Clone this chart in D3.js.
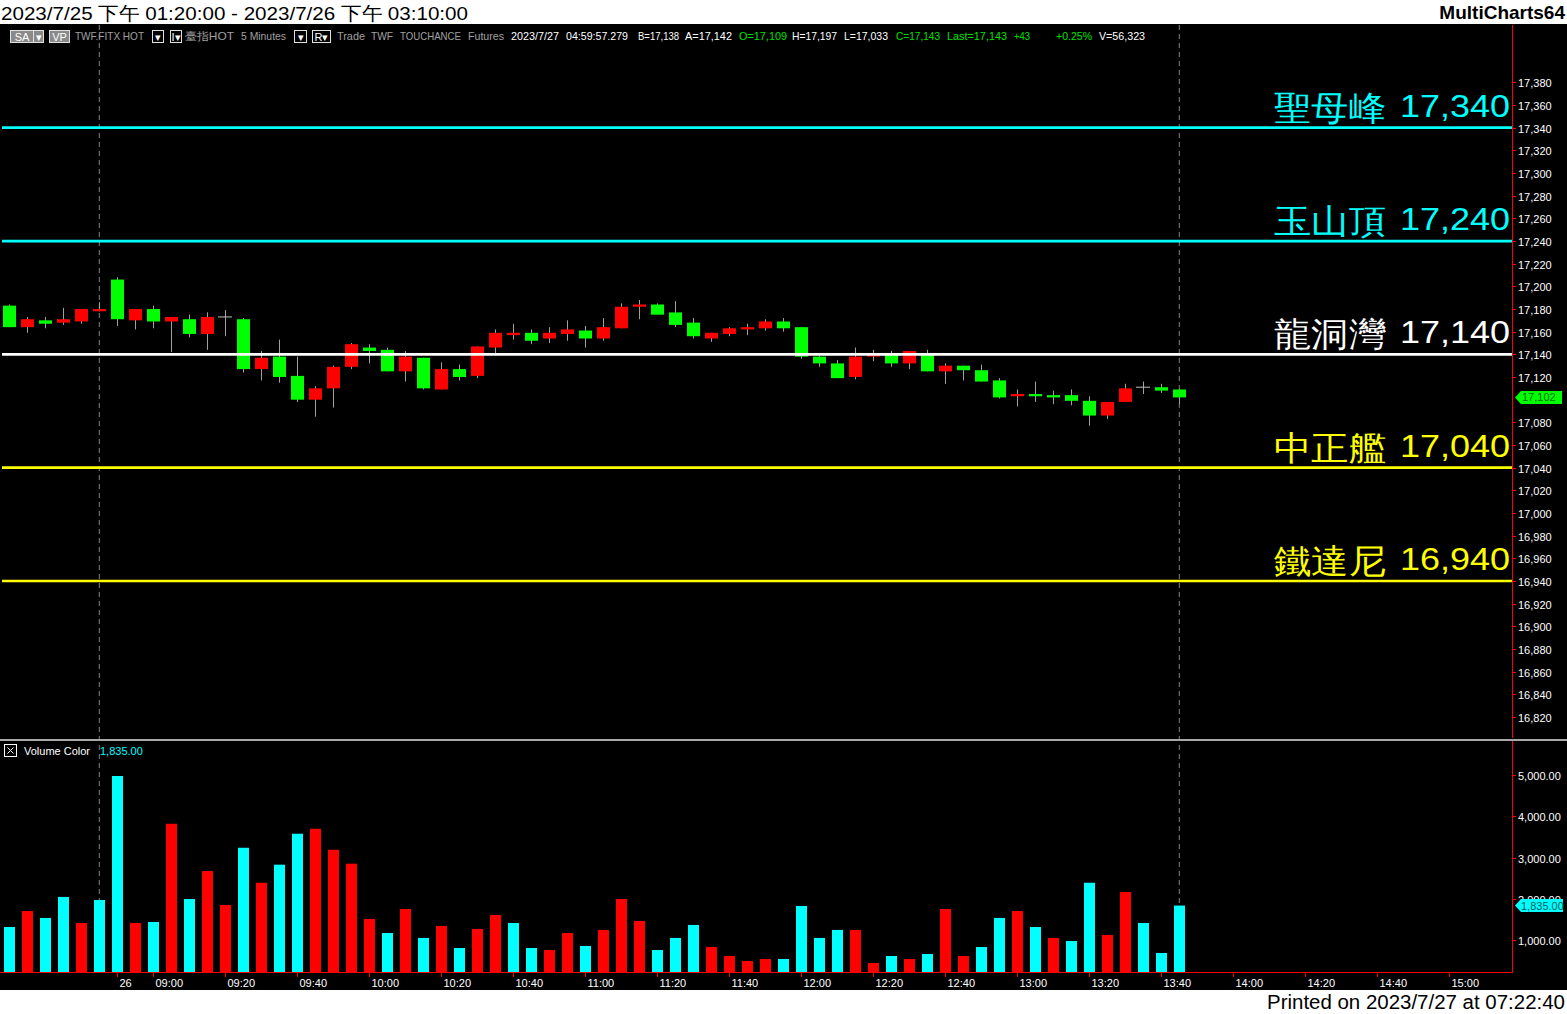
<!DOCTYPE html>
<html><head><meta charset="utf-8">
<script src="https://cdn.jsdelivr.net/npm/d3@7"></script>
<style>
html,body{margin:0;padding:0;background:#000;}
svg{display:block;}
text{font-family:"Liberation Sans",Arial,sans-serif;}
</style></head>
<body>
<svg id="c" width="1567" height="1014"></svg>
<script>
// ---------- DATA ----------
const barTimes = ["04:35","04:40","04:45","04:50","04:55","05:00",
 "08:50","08:55","09:00","09:05","09:10","09:15","09:20","09:25","09:30","09:35","09:40","09:45",
 "09:50","09:55","10:00","10:05","10:10","10:15","10:20","10:25","10:30","10:35","10:40","10:45",
 "10:50","10:55","11:00","11:05","11:10","11:15","11:20","11:25","11:30","11:35","11:40","11:45",
 "11:50","11:55","12:00","12:05","12:10","12:15","12:20","12:25","12:30","12:35","12:40","12:45",
 "12:50","12:55","13:00","13:05","13:10","13:15","13:20","13:25","13:30","13:35","13:40","13:45"];
const openP  = [17183,17164,17170,17168,17169,17178,
 17206,17170,17180,17169,17171,17158,17173,17171,17127,17138,17121,17100,17110,17129,17146,17144,
 17125,17137,17109,17127,17121,17146,17157,17159,17154,17158,17161,17154,17163,17182,17184,17177,
 17168,17154,17158,17162,17163,17169,17164,17138,17132,17120,17138,17140,17132,17141,17125,17130,
 17126,17117,17103,17105,17104,17104,17099,17086,17098,17111,17111,17109];
const highP  = [17184,17173,17173,17181,17180,17186,
 17208,17180,17183,17173,17175,17177,17179,17172,17143,17153,17138,17112,17130,17150,17149,17146,
 17143,17137,17133,17131,17147,17162,17167,17162,17164,17170,17165,17172,17185,17188,17185,17187,
 17172,17159,17164,17167,17171,17172,17164,17139,17135,17146,17144,17143,17143,17144,17132,17130,
 17131,17119,17109,17116,17108,17109,17103,17098,17114,17116,17114,17109];
const lowP   = [17164,17159,17163,17166,17167,17178,
 17165,17162,17163,17142,17155,17144,17156,17124,17117,17115,17098,17085,17093,17127,17132,17125,
 17116,17109,17109,17117,17119,17141,17153,17149,17150,17152,17146,17152,17163,17171,17175,17164,
 17154,17151,17156,17157,17161,17160,17136,17129,17119,17118,17134,17129,17127,17125,17114,17117,
 17116,17101,17094,17098,17096,17095,17077,17083,17098,17105,17106,17096];
const closeP = [17164,17171,17167,17171,17180,17180,
 17171,17180,17169,17173,17158,17173,17173,17127,17137,17120,17100,17110,17129,17149,17143,17125,
 17138,17110,17127,17120,17147,17159,17159,17152,17159,17162,17154,17164,17182,17184,17175,17166,
 17156,17159,17163,17164,17169,17163,17138,17132,17119,17138,17140,17132,17143,17125,17130,17126,
 17116,17102,17105,17103,17102,17099,17086,17098,17110,17111,17108,17102];
const volume = [1315,1703,1535,2044,1412,1970,
 4976,1412,1436,3818,1994,2673,1848,3236,2388,2826,3576,3697,3188,2850,1511,1170,
 1752,1050,1341,806,1268,1607,1412,806,758,1170,855,1244,1994,1460,758,1050,
 1365,830,612,491,540,540,1824,1050,1244,1244,443,612,540,661,1752,612,
 830,1535,1703,1315,1050,976,2388,1122,2164,1412,685,1835];
const volDir = ["d","u","d","d","u","d",
 "d","u","d","u","d","u","u","d","u","d","d","u","u","u","u","d",
 "u","d","u","d","u","u","d","d","u","u","d","u","u","u","d","d",
 "d","u","u","u","u","d","d","d","d","u","u","d","u","d","u","u",
 "d","d","u","d","u","d","d","u","u","d","d","d"];
const levelNames  = ["聖母峰","玉山頂","龍洞灣","中正艦","鐵達尼"];
const levelPrices = [17340,17240,17140,17040,16940];
const levelColors = ["#00ffff","#00ffff","#ffffff","#ffff00","#ffff00"];
// 17,100 is hidden behind the last-price marker in the reference
const priceTicks = [16820,16840,16860,16880,16900,16920,16940,16960,16980,17000,17020,17040,17060,17080,
 17120,17140,17160,17180,17200,17220,17240,17260,17280,17300,17320,17340,17360,17380];
const volTicks = [1000,2000,3000,4000,5000];
const xTickLabels = ["26","09:00","09:20","09:40","10:00","10:20","10:40","11:00","11:20","11:40",
 "12:00","12:20","12:40","13:00","13:20","13:40","14:00","14:20","14:40","15:00"];
const lastPrice = 17102, lastVolume = 1835;

// ---------- SCALES ----------
const svg = d3.select("#c");
const fmt = d3.format(",");
const slotOf = t => { const [h,m] = t.split(":").map(Number); return (h*60+m - 530)/5; };
const barSlot = barTimes.map((t,i) => i < 6 ? i - 6 : slotOf(t));
const x  = d3.scaleLinear().domain([0, 74]).range([117.3, 1449.3]);
const yP = d3.scaleLinear().domain([16940, 17340]).range([581.0, 127.7]);
const yV = d3.scaleLinear().domain([0, 5000]).range([981.25, 775]);
const plotR = 1512, volBase = 972;

// backgrounds
svg.append("rect").attr("x",0).attr("y",0).attr("width",1567).attr("height",1014).attr("fill","#000");
svg.append("rect").attr("x",0).attr("y",0).attr("width",1567).attr("height",24).attr("fill","#fff");
svg.append("rect").attr("x",0).attr("y",990).attr("width",1567).attr("height",24).attr("fill","#fff");

// title bar
svg.append("text").attr("x",1).attr("y",20).attr("font-size",19).attr("fill","#000")
  .attr("font-family","'Liberation Sans','Noto Sans CJK TC',sans-serif")
  .attr("textLength",467).attr("lengthAdjust","spacingAndGlyphs")
  .text("2023/7/25 下午 01:20:00 - 2023/7/26 下午 03:10:00");
svg.append("text").attr("x",1565).attr("y",19).attr("text-anchor","end").attr("font-size",19)
  .attr("font-weight","bold").attr("fill","#000").text("MultiCharts64");
svg.append("text").attr("x",1565).attr("y",1009).attr("text-anchor","end").attr("font-size",20)
  .attr("fill","#000").attr("font-family","'Open Sans','Liberation Sans',sans-serif")
  .attr("textLength",298).attr("lengthAdjust","spacingAndGlyphs")
  .text("Printed on 2023/7/27 at 07:22:40");

// dashed verticals (session break and last bar)
[x(-1), x(59)].forEach(dx => {
  svg.append("line").attr("x1",dx).attr("x2",dx).attr("y1",25).attr("y2",volBase)
    .attr("stroke","#808080").attr("stroke-width",1).attr("stroke-dasharray","5,4");
});

// header row widgets
const hdr = svg.append("g").attr("font-size",11);
function box(x0,w,fill,label,tcol){
  hdr.append("rect").attr("x",x0+0.5).attr("y",30.5).attr("width",w).attr("height",12)
    .attr("fill",fill).attr("stroke","#e0e0e0");
  hdr.append("text").attr("x",x0+w/2+0.5).attr("y",40.5).attr("text-anchor","middle")
    .attr("fill",tcol).attr("font-size",11).text(label);
}
box(10,23,"#8a8a8a","SA","#fff"); box(33,10,"#8a8a8a","▾","#fff");
box(49,20,"#8a8a8a","VP","#fff");
box(152,11,"#000","▾","#fff"); box(170,11,"#000","I▾","#fff"); box(294,12,"#000","▾","#fff");
box(312,18,"#000","R▾","#fff");
const hdrTexts = [
  [75,69,"TWF.FITX HOT","#a0a0a0"],[185,49,"臺指HOT","#a0a0a0"],[241,45,"5 Minutes","#a0a0a0"],
  [337,28,"Trade","#a0a0a0"],[371,22,"TWF","#a0a0a0"],[400,61,"TOUCHANCE","#a0a0a0"],[468,36,"Futures","#a0a0a0"],
  [511,48,"2023/7/27","#fff"],[566,62,"04:59:57.279","#fff"],[638,41,"B=17,138","#fff"],[685,47,"A=17,142","#fff"],
  [739,48,"O=17,109","#00e000"],[792,45,"H=17,197","#fff"],[844,44,"L=17,033","#fff"],[896,44,"C=17,143","#00e000"],
  [947,60,"Last=17,143","#00e000"],[1014,16,"+43","#00e000"],[1056,36,"+0.25%","#00e000"],[1099,46,"V=56,323","#fff"]];
hdrTexts.forEach(([tx,w,s,c]) => hdr.append("text").attr("x",tx).attr("y",40).attr("fill",c)
  .attr("textLength",w).attr("lengthAdjust","spacingAndGlyphs")
  .attr("font-family","'Liberation Sans','Noto Sans CJK TC',sans-serif").text(s));

// ---------- CANDLES ----------
const bars = barTimes.map((t,i) => ({t, s:barSlot[i], o:openP[i], h:highP[i], l:lowP[i], c:closeP[i], v:volume[i], d:volDir[i]}));
const cg = svg.append("g");
cg.selectAll("line.w").data(bars).join("line")
  .attr("x1",d=>Math.round(x(d.s))+0.5).attr("x2",d=>Math.round(x(d.s))+0.5)
  .attr("y1",d=>yP(d.h)).attr("y2",d=>yP(d.l)).attr("stroke","#a0a0a0").attr("stroke-width",1);
cg.selectAll("rect.b").data(bars.filter(d=>d.o!==d.c)).join("rect")
  .attr("x",d=>Math.round(x(d.s))-6).attr("width",13)
  .attr("y",d=>yP(Math.max(d.o,d.c)))
  .attr("height",d=>Math.max(2, yP(Math.min(d.o,d.c)) - yP(Math.max(d.o,d.c))))
  .attr("fill",d=>d.c>d.o ? "#ff0000" : "#00ff00");
cg.selectAll("line.dj").data(bars.filter(d=>d.o===d.c)).join("line")
  .attr("x1",d=>Math.round(x(d.s))-7).attr("x2",d=>Math.round(x(d.s))+7)
  .attr("y1",d=>yP(d.o)).attr("y2",d=>yP(d.o)).attr("stroke","#c0c0c0").attr("stroke-width",1);

// ---------- LEVEL LINES ----------
levelPrices.forEach((p,i) => {
  const ly = yP(p);
  svg.append("line").attr("x1",2).attr("x2",plotR).attr("y1",ly).attr("y2",ly)
    .attr("stroke",levelColors[i]).attr("stroke-width",2.7);
  svg.append("text").attr("x",1274).attr("y",ly-8).attr("fill",levelColors[i])
    .attr("font-family","'Noto Sans CJK TC',sans-serif").attr("font-weight",300).attr("font-size",34)
    .attr("textLength",112).attr("lengthAdjust","spacingAndGlyphs").text(levelNames[i]);
  svg.append("text").attr("x",1400).attr("y",ly-11).attr("fill",levelColors[i])
    .attr("font-family","'Noto Sans CJK TC',sans-serif").attr("font-weight",300).attr("font-size",32)
    .attr("textLength",110).attr("lengthAdjust","spacingAndGlyphs").text(fmt(p));
});

// ---------- PRICE AXIS ----------
svg.append("line").attr("x1",plotR+0.5).attr("x2",plotR+0.5).attr("y1",25).attr("y2",738)
  .attr("stroke","#ff0000").attr("stroke-width",1);
const pa = svg.append("g");
priceTicks.forEach(p => {
  const ty = Math.round(yP(p))+0.5;
  pa.append("line").attr("x1",plotR).attr("x2",plotR+4).attr("y1",ty).attr("y2",ty).attr("stroke","#ff0000");
  pa.append("text").attr("x",1518).attr("y",ty+4).attr("font-size",11).attr("fill","#fff").text(fmt(p));
});
{
  const ly = yP(lastPrice);
  svg.append("path").attr("d",`M1515,${ly} L1521,${ly-6.5} L1562,${ly-6.5} L1562,${ly+6.5} L1521,${ly+6.5} Z`)
    .attr("fill","#00ff00");
  svg.append("text").attr("x",1522).attr("y",ly+4).attr("font-size",11).attr("fill","#006600").text(fmt(lastPrice));
}

// separator
svg.append("rect").attr("x",0).attr("y",739).attr("width",1567).attr("height",2).attr("fill","#a8a8a8");

// ---------- VOLUME ----------
const vg = svg.append("g");
vg.selectAll("rect").data(bars).join("rect")
  .attr("x",d=>Math.round(x(d.s))-5).attr("width",11)
  .attr("y",d=>yV(d.v)).attr("height",d=>volBase - yV(d.v))
  .attr("fill",d=>d.d==="u" ? "#ff0000" : "#00ffff");
svg.append("line").attr("x1",0).attr("x2",plotR+1).attr("y1",volBase+0.5).attr("y2",volBase+0.5).attr("stroke","#ff0000");
svg.append("line").attr("x1",plotR+0.5).attr("x2",plotR+0.5).attr("y1",741).attr("y2",volBase).attr("stroke","#ff0000");
volTicks.forEach(v => {
  const ty = Math.round(yV(v))+0.5;
  svg.append("line").attr("x1",plotR).attr("x2",plotR+4).attr("y1",ty).attr("y2",ty).attr("stroke","#ff0000");
  svg.append("text").attr("x",1518).attr("y",ty+4).attr("font-size",11).attr("fill","#fff").text(d3.format(",.2f")(v));
});
{
  const ly = yV(lastVolume);
  svg.append("path").attr("d",`M1515,${ly} L1521,${ly-6.5} L1563,${ly-6.5} L1563,${ly+6.5} L1521,${ly+6.5} Z`)
    .attr("fill","#00ffff");
  svg.append("text").attr("x",1521).attr("y",ly+4).attr("font-size",11).attr("fill","#006060").text(d3.format(",.2f")(lastVolume));
}
// legend
svg.append("rect").attr("x",4.5).attr("y",744.5).attr("width",12).attr("height",12).attr("fill","none").attr("stroke","#fff");
svg.append("path").attr("d","M7.5,747.5 L13.5,753.5 M13.5,747.5 L7.5,753.5").attr("stroke","#fff");
svg.append("text").attr("x",24).attr("y",755).attr("font-size",11).attr("fill","#fff").text("Volume Color");
svg.append("text").attr("x",100).attr("y",755).attr("font-size",11).attr("fill","#00ffff").text(d3.format(",.2f")(lastVolume));

// ---------- X AXIS ----------
xTickLabels.forEach(lbl => {
  const s = lbl.includes(":") ? slotOf(lbl) : 0;
  const tx = Math.round(x(s))+0.5;
  svg.append("line").attr("x1",tx).attr("x2",tx).attr("y1",volBase).attr("y2",volBase+5).attr("stroke","#ff0000");
  svg.append("text").attr("x",tx+2).attr("y",987).attr("font-size",11).attr("fill","#fff").text(lbl);
});
</script>
</body></html>
